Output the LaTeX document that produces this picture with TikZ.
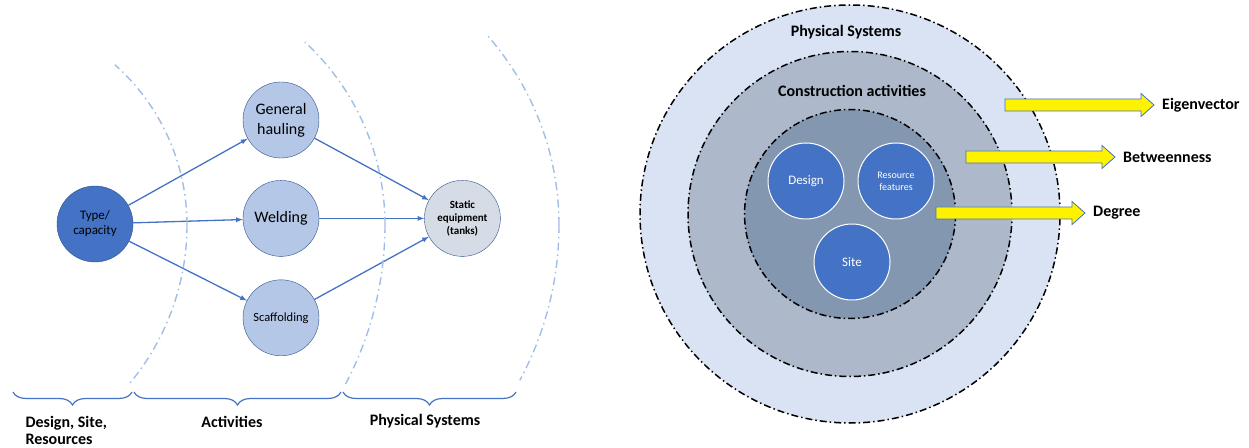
\documentclass[tikz,border=0pt]{standalone}
\usepackage{fontspec}
\setmainfont{Carlito}
\usepackage{tikz}
\usetikzlibrary{arrows,calc,positioning,shapes.geometric,decorations.pathreplacing}
\definecolor{lineblue}{RGB}{68,114,196}
\definecolor{darkblue}{RGB}{47,82,143}
\definecolor{actfill}{RGB}{180,199,231}
\definecolor{tankfill}{RGB}{214,220,229}
\definecolor{zoneblue}{RGB}{160,190,232}
\definecolor{ringa}{RGB}{218,227,243}
\definecolor{ringb}{RGB}{173,185,202}
\definecolor{ringc}{RGB}{132,151,176}
\tikzset{
        src/.style = {draw=darkblue, circle, fill=lineblue,
            minimum size=76pt, inner sep=0pt, align=center},
        act/.style = {src, fill=actfill},
        tank/.style = {src, fill=tankfill},
        arrow/.style = {draw=lineblue, line width=1.3pt, -latex},
        zone/.style = {draw=zoneblue, line width=1.4pt,
            dash pattern=on 8pt off 4pt on 1.5pt off 4pt},
        span/.style = {draw=lineblue, line width=1.2pt, decorate,
            decoration={brace, mirror, amplitude=13pt}},
        ring/.style = {draw, ellipse, line width=1.5pt, inner sep=0pt,
            dash pattern=on 7pt off 3pt on 1.5pt off 3pt},
        core/.style = {circle, draw=white, line width=1pt, fill=lineblue,
            minimum size=76pt, inner sep=0pt, text=white, align=center},
        yarrow/.style = {draw=lineblue, fill=yellow, line width=0.8pt},
        lbl/.style = {font=\bfseries\fontsize{16}{17}\selectfont},
    }

\begin{document}
\begin{tikzpicture}[x=1pt,y=1pt]
    \useasboundingbox (0,0) rectangle (1249,447);

    % left: flow from resources over activities to physical systems
    \node[src, font=\fontsize{13}{15}\selectfont] (type) at (95,223) {Type/\\capacity};
    \node[act, font=\fontsize{16}{20}\selectfont] (haul) at (281,327) {General\\hauling};
    \node[act, below=22pt of haul, font=\fontsize{16}{20}\selectfont] (weld) {Welding};
    \node[act, below=23pt of weld, font=\fontsize{12.5}{15}\selectfont] (scaf) {Scaffolding};
    \node[tank, right=105pt of weld, font=\bfseries\fontsize{11}{13.3}\selectfont] (tank) {Static\\equipment\\(tanks)};

    \foreach \a in {haul,weld,scaf} {
        \draw[arrow] (type) -- (\a);
        \draw[arrow] (\a) -- (tank);
    }

    % zone boundaries
    \draw[zone] (187,222) arc[start angle=0, end angle=48.5, radius=214]
                (187,222) arc[start angle=0, end angle=-39.7, radius=247.5];
    \draw[zone] (385,222) arc[start angle=0, end angle=47.3, radius=249]
                (385,222) arc[start angle=0, end angle=-28.1, radius=340];
    \draw[zone] (559,222) arc[start angle=0, end angle=41.5, radius=286.7]
                (559,222) arc[start angle=0, end angle=-28.3, radius=327.5];

    \draw[span] (13,55) -- (132,55);
    \draw[span] (134,55) -- (341,55);
    \draw[span] (343,55) -- (516,55);

    \node[lbl, anchor=base west, align=left] (dsr-lbl) at (22,3) {Design, Site,\\Resources};
    \node[lbl, anchor=base] (act-lbl) at (232,20) {Activities};
    \node[lbl, anchor=base] (phys-lbl) at (425,22) {Physical Systems};

    % right: nested layers
    \node[ring, fill=ringa, minimum width=420pt, minimum height=418pt] (phys) at (850,233) {};
    \node[ring, fill=ringb, minimum width=324pt, minimum height=325pt] (cons) at (850,233) {};
    \node[ring, fill=ringc, minimum width=211pt, minimum height=209pt] (base) at (850,233) {};

    \node[lbl] at ($(phys.north)+(-4,-28)$) {Physical Systems};
    \node[lbl] at ($(cons.north)+(2,-40)$) {Construction activities};

    \node[core, font=\fontsize{13}{15}\selectfont] (design) at (806,266) {Design};
    \node[core, right=13pt of design, font=\fontsize{10}{12}\selectfont] (res) {Resource\\features};
    \node[core, font=\fontsize{13}{15}\selectfont] (site) at (852,185) {Site};

    % centrality measures
    \foreach \nm/\txt/\x/\y in {eig/Eigenvector/1005/342, btw/Betweenness/966/290, deg/Degree/936/234} {
        \coordinate (\nm-s) at (\x,\y);
        \node[lbl, anchor=west, inner sep=0pt] (\nm) at (\x+157,\y) {\txt};
        \draw[yarrow] (\nm-s) ++(0,6) -- ++(136,0) -- ++(0,5.5) -- ++(13,-11.5)
            -- ++(-13,-11.5) -- ++(0,5.5) -- ++(-136,0) -- cycle;
    }
\end{tikzpicture}
\end{document}
